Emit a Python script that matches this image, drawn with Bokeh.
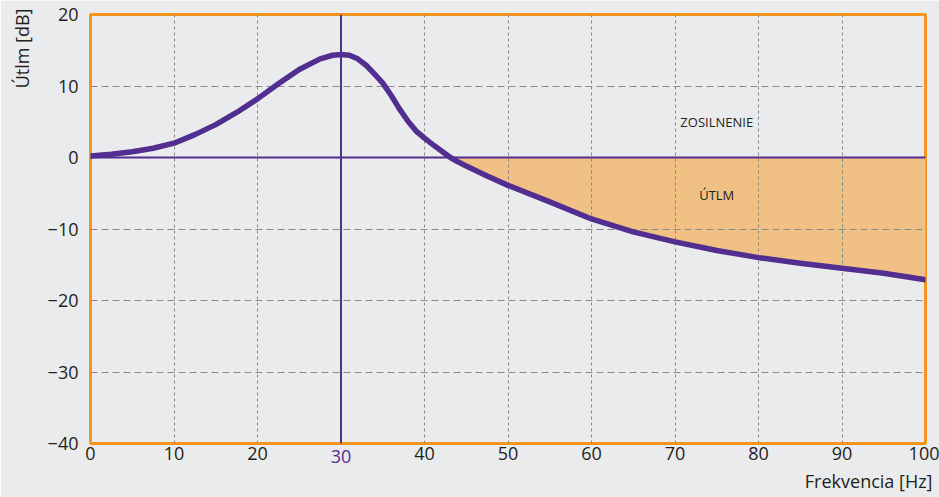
import numpy as np
from bokeh.plotting import figure
from bokeh.models import Label, FixedTicker, Range1d, Span, LinearAxis, Title
from bokeh.embed import file_html
from bokeh.resources import INLINE

# ---- data ----
freq = [0, 2.5, 5, 7.5, 10, 12.5, 15, 17.5, 20, 22.5, 25, 27.5, 29, 30, 31, 32, 33, 34,
        35, 36, 37, 38, 39, 40, 41, 42, 43.1, 44, 45, 47.5, 50, 55, 60, 65, 70, 75, 80,
        85, 90, 95, 100]
gain = [0.2, 0.45, 0.8, 1.3, 2.0, 3.2, 4.6, 6.3, 8.2, 10.3, 12.3, 13.8, 14.3, 14.4, 14.3,
        13.8, 12.9, 11.7, 10.4, 8.7, 6.8, 5.1, 3.7, 2.7, 1.8, 0.95, 0.0, -0.6, -1.2, -2.6,
        -3.9, -6.2, -8.6, -10.4, -11.8, -13.0, -14.0, -14.8, -15.5, -16.2, -17.1]
resonance = 30
x_ticks = [0, 10, 20, 40, 50, 60, 70, 80, 90, 100]
y_ticks = [-40, -30, -20, -10, 0, 10, 20]
x_label = "Frekvencia [Hz]"
y_label = "Útlm [dB]"
gain_text = "ZOSILNENIE"
atten_text = "ÚTLM"

BG = "#eaebec"
ORANGE = "#f7941d"
FILL = "#f0c085"
PURPLE = "#522e91"
TEXT = "#231f20"
GRID = "#8a8a8a"
FONT = "Open Sans"

p = figure(width=939, height=497, output_backend="svg", toolbar_location=None,
           x_range=Range1d(0, 100), y_range=Range1d(-40, 20),
           min_border_left=90, min_border_right=14, min_border_top=14,
           min_border_bottom=54)
p.background_fill_color = BG
p.border_fill_color = BG
p.outline_line_color = ORANGE
p.outline_line_width = 3

p.xaxis.ticker = FixedTicker(ticks=x_ticks)
p.yaxis.ticker = FixedTicker(ticks=y_ticks)


def style_axis(ax, color=TEXT):
    ax.axis_line_color = None
    ax.major_tick_line_color = None
    ax.minor_tick_line_color = None
    ax.major_tick_out = 0
    ax.major_tick_in = 0
    ax.minor_tick_out = 0
    ax.minor_tick_in = 0
    ax.major_label_text_font = FONT
    ax.major_label_text_font_size = "18px"
    ax.major_label_text_color = color


for ax in (p.xaxis[0], p.yaxis[0]):
    style_axis(ax)
p.xaxis[0].major_label_standoff = 3
p.yaxis[0].major_label_standoff = 12

# purple tick label at the resonance frequency, pulled up to the main tick row
res_axis = LinearAxis(ticker=FixedTicker(ticks=[resonance]))
style_axis(res_axis, PURPLE)
res_axis.major_label_standoff = -13
p.add_layout(res_axis, "below")

p.add_layout(Title(text=x_label, align="right", text_font=FONT, text_font_size="18px",
                   text_font_style="normal", text_color=TEXT, standoff=2, offset=-7),
             "below")
p.add_layout(Title(text=y_label, align="right", vertical_align="top", text_font=FONT,
                   text_font_size="18px", text_font_style="normal", text_color=TEXT,
                   standoff=18, offset=-6),
             "left")

p.xgrid.grid_line_color = GRID
p.xgrid.grid_line_dash = "3 3"
p.xgrid.grid_line_width = 1
p.ygrid.grid_line_color = GRID
p.ygrid.grid_line_dash = "7 4"
p.ygrid.grid_line_width = 1

# attenuation fill
neg = np.minimum(np.array(gain), 0)
p.varea(x=freq, y1=neg, y2=0, fill_color=FILL, level="image")

p.add_layout(Span(location=resonance, dimension="height", line_color=PURPLE,
                  line_width=2, level="underlay"))
p.add_layout(Span(location=0, dimension="width", line_color=PURPLE,
                  line_width=2, level="underlay"))

p.line(freq, gain, line_color=PURPLE, line_width=5.5, line_cap="round", line_join="round")

p.add_layout(Label(x=75, y=4.9, text=gain_text, text_align="center", text_baseline="middle",
                   text_font=FONT, text_font_size="13px", text_color=TEXT))
p.add_layout(Label(x=75, y=-5.3, text=atten_text, text_align="center", text_baseline="middle",
                   text_font=FONT, text_font_size="13px", text_color=TEXT))

open("out.html", "w").write(file_html(p, INLINE))
